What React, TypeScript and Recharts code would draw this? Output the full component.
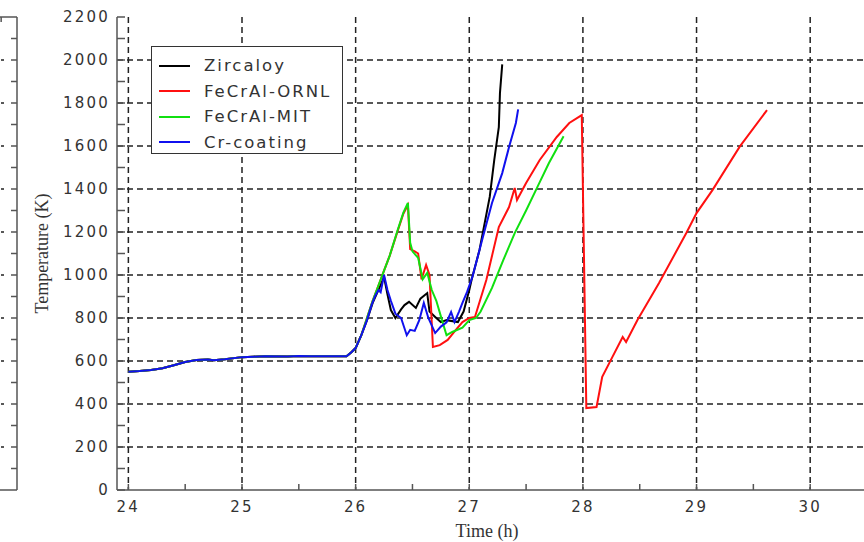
import React from "react";
import { LineChart, Line, XAxis, YAxis, CartesianGrid, Legend } from "recharts";

// Common heat-up up to ~26 h (all four claddings sit on top of each other here)
const baseTime = [24.0, 24.1, 24.2, 24.3, 24.4, 24.5, 24.6, 24.7, 24.75, 24.85, 25.0, 25.1, 25.2, 25.4, 25.5, 25.6, 25.7, 25.8, 25.92, 25.96];
const baseTemp = [550, 553, 558, 566, 580, 595, 605, 607, 603, 608, 618, 620, 622, 621, 623, 622, 622, 622, 622, 640];

const zircTime = [26.0, 26.05, 26.1, 26.15, 26.2, 26.25, 26.28, 26.31, 26.35, 26.4, 26.43, 26.47, 26.53, 26.57, 26.63, 26.65, 26.7, 26.75, 26.8, 26.9, 26.95, 27.0, 27.02, 27.09, 27.18, 27.22, 27.26, 27.27, 27.29];
const zircTemp = [660, 720, 790, 870, 930, 990, 910, 837, 800, 840, 860, 875, 847, 890, 916, 830, 805, 781, 790, 781, 830, 930, 977, 1116, 1363, 1535, 1688, 1846, 1980];

const ornlTime = [26.0, 26.05, 26.1, 26.15, 26.2, 26.25, 26.3, 26.37, 26.42, 26.46, 26.48, 26.52, 26.55, 26.58, 26.62, 26.65, 26.68, 26.74, 26.81, 26.88, 26.94, 27.0, 27.05, 27.15, 27.26, 27.35, 27.4, 27.42, 27.5, 27.62, 27.77, 27.88, 27.99, 28.03, 28.12, 28.17, 28.26, 28.35, 28.38, 28.48, 28.67, 28.91, 29.0, 29.14, 29.38, 29.62];
const ornlTemp = [660, 720, 800, 880, 950, 1020, 1090, 1205, 1285, 1325, 1120, 1110, 1100, 980, 1047, 1000, 665, 674, 698, 744, 781, 800, 805, 977, 1223, 1316, 1405, 1349, 1428, 1535, 1642, 1707, 1744, 381, 386, 526, 619, 712, 688, 791, 963, 1195, 1288, 1395, 1597, 1767];

const mitTime = [26.0, 26.05, 26.1, 26.15, 26.2, 26.25, 26.3, 26.37, 26.42, 26.46, 26.48, 26.5, 26.55, 26.59, 26.63, 26.67, 26.71, 26.76, 26.8, 26.85, 26.94, 27.0, 27.06, 27.1, 27.2, 27.3, 27.4, 27.5, 27.6, 27.7, 27.83];
const mitTemp = [660, 720, 800, 880, 950, 1020, 1090, 1209, 1290, 1335, 1150, 1110, 1080, 980, 1010, 930, 880, 790, 720, 735, 755, 790, 800, 830, 940, 1070, 1195, 1300, 1410, 1520, 1645];

const crTime = [26.0, 26.05, 26.1, 26.14, 26.17, 26.2, 26.22, 26.25, 26.28, 26.31, 26.35, 26.4, 26.45, 26.48, 26.52, 26.56, 26.6, 26.64, 26.7, 26.75, 26.8, 26.84, 26.87, 26.91, 26.94, 26.98, 27.03, 27.12, 27.2, 27.29, 27.35, 27.41, 27.43];
const crTemp = [660, 720, 790, 860, 900, 930, 920, 1000, 930, 880, 820, 800, 720, 745, 740, 790, 870, 800, 730, 760, 780, 828, 781, 830, 870, 920, 995, 1177, 1335, 1474, 1595, 1707, 1770];

const xTicks = [24, 24.5, 25, 25.5, 26, 26.5, 27, 27.5, 28, 28.5, 29, 29.5, 30];
const xGrid = [24, 25, 26, 27, 28, 29, 30];
const yTicks = [0, 100, 200, 300, 400, 500, 600, 700, 800, 900, 1000, 1100, 1200, 1300, 1400, 1500, 1600, 1700, 1800, 1900, 2000, 2100, 2200];
const yGrid = [200, 400, 600, 800, 1000, 1200, 1400, 1600, 1800, 2000];
const sideTicks = [100, 200, 300, 400, 500, 600, 700, 800, 900, 1000, 1100, 1200, 1300, 1400, 1500, 1600, 1700, 1800, 1900, 2000, 2100];

// neighbouring panel: only its time range is needed to place the axes
const sideRange = [{ t: 0 }, { t: 1 }];

const series = [
  { name: "Zircaloy", color: "#000000", time: zircTime, temp: zircTemp },
  { name: "FeCrAl-ORNL", color: "#ff1010", time: ornlTime, temp: ornlTemp },
  { name: "FeCrAl-MIT", color: "#10e010", time: mitTime, temp: mitTemp },
  { name: "Cr-coating", color: "#1010ee", time: crTime, temp: crTemp },
];

function toPoints(time: number[], temp: number[]) {
  const t = [...baseTime, ...time];
  const k = [...baseTemp, ...temp];
  return t.map((v, i) => ({ t: v, k: k[i] }));
}

const axisColor = "#555";
const gridColor = "#222";
const tickFont = { fill: "#333", fontSize: 15, fontFamily: "DejaVu Sans", letterSpacing: 2.2 };
const blank = () => "";

// side panel: dashed grid stub at every 200 K, plain tick otherwise
// eslint-disable-next-line @typescript-eslint/no-explicit-any
function SideTick(props: any) {
  const { x, y, payload } = props;
  if (payload.value % 200 !== 0) return <g />;
  return <line x1={x - 200} x2={x - 7} y1={y} y2={y} stroke={gridColor} strokeWidth={1.5} strokeDasharray="6 4" />;
}

function LegendBox() {
  return (
    <div style={{ border: "1.5px solid #333", background: "#fff", width: 192, height: 108, boxSizing: "border-box", padding: "6px 0 0 0" }}>
      {series.map((s) => (
        <div key={s.name} style={{ display: "flex", alignItems: "center", height: 25.5 }}>
          <svg width={52} height={10}>
            <line x1={7} x2={38} y1={5} y2={5} stroke={s.color} strokeWidth={2} />
          </svg>
          <span style={{ fontFamily: "DejaVu Sans", fontSize: 16.5, letterSpacing: 2, color: "#333" }}>{s.name}</span>
        </div>
      ))}
    </div>
  );
}

export default function App() {
  return (
    <div style={{ position: "absolute", left: 0, top: 0, width: 864, height: 542, overflow: "hidden", background: "#fff" }}>
      {/* right edge of the neighbouring panel */}
      <div style={{ position: "absolute", left: -181, top: 0 }}>
        <LineChart width={200} height={542} data={sideRange} margin={{ top: 16, right: 1, bottom: 0, left: 0 }}>
          <XAxis type="number" dataKey="t" domain={[0, 1]} ticks={[0.91]} interval={0} tickFormatter={blank} height={52} tickSize={-5} stroke={axisColor} strokeWidth={1.5} />
          <XAxis xAxisId="tp" orientation="top" type="number" dataKey="t" domain={[0, 1]} ticks={[0.92]} interval={0} tickFormatter={blank} height={1} tickSize={-5} stroke={axisColor} strokeWidth={1.5} />
          <YAxis orientation="right" type="number" domain={[0, 2200]} allowDataOverflow ticks={sideTicks} interval={0} tick={<SideTick />} tickMargin={0} width={1} tickSize={-6} stroke={axisColor} strokeWidth={1.5} />
          <Line dataKey="k" stroke="none" dot={false} isAnimationActive={false} legendType="none" />
        </LineChart>
      </div>

      <div style={{ position: "absolute", left: 0, top: 0 }}>
        <LineChart width={868} height={542} margin={{ top: 17, right: 1, bottom: 0, left: 0 }}>
          <CartesianGrid verticalValues={xGrid} horizontalValues={yGrid} stroke={gridColor} strokeDasharray="6 4" strokeWidth={1.5} />
          <XAxis
            type="number"
            dataKey="t"
            domain={[23.9, 30.5]}
            ticks={xTicks}
            interval={0}
            allowDataOverflow
            height={52}
            tickSize={-6}
            tickMargin={17}
            tick={tickFont}
            tickFormatter={(v: number) => (Number.isInteger(v) ? String(v) : "")}
            stroke={axisColor}
            strokeWidth={1.5}
            label={{ value: "Time (h)", position: "center", dx: -5, dy: 15, style: { fontFamily: "Liberation Serif", fontSize: 18, fill: "#333" } }}
          />
          <XAxis
            xAxisId="top"
            orientation="top"
            type="number"
            dataKey="t"
            domain={[23.9, 30.5]}
            ticks={xTicks}
            interval={0}
            allowDataOverflow
            height={0}
            tickSize={-6}
            tickFormatter={blank}
            stroke={axisColor}
            strokeWidth={1.5}
          />
          <YAxis
            type="number"
            domain={[0, 2200]}
            ticks={yTicks}
            interval={0}
            width={117}
            tickSize={-8}
            tickMargin={15}
            tick={tickFont}
            tickFormatter={(v: number) => (v % 200 === 0 ? String(v) : "")}
            stroke={axisColor}
            strokeWidth={1.5}
            label={{ value: "Temperature (K)", angle: -90, position: "center", dx: -17, style: { fontFamily: "Liberation Serif", fontSize: 18, fill: "#333", textAnchor: "middle" } }}
          />
          <Legend
            layout="horizontal"
            verticalAlign="middle"
            content={() => <LegendBox />}
            wrapperStyle={{ position: "absolute", left: 151, top: 46, width: 192 }}
          />
          {series.map((s) => (
            <Line
              key={s.name}
              data={toPoints(s.time, s.temp)}
              dataKey="k"
              name={s.name}
              type="linear"
              stroke={s.color}
              strokeWidth={2}
              dot={false}
              isAnimationActive={false}
            />
          ))}
        </LineChart>
      </div>
    </div>
  );
}
